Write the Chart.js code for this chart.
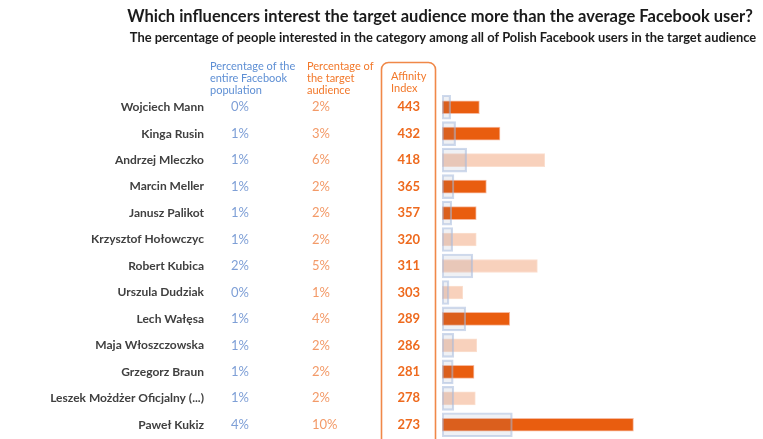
<!DOCTYPE html>
<html><head><meta charset="utf-8">
<script src="https://cdn.jsdelivr.net/npm/chart.js@4"></script>
<style>html,body{margin:0;padding:0;background:#fff;overflow:hidden}canvas{display:block}</style>
</head><body>
<canvas id="c" width="763" height="439"></canvas>
<script>
const titleText = "Which influencers interest the target audience more than the average Facebook user?";
const subtitleText = "The percentage of people interested in the category among all of Polish Facebook users in the target audience";
const populationHeader = ["Percentage of the", "entire Facebook", "population"];
const targetHeader = ["Percentage of", "the target", "audience"];
const affinityHeader = ["Affinity", "Index"];

const names = ["Wojciech Mann","Kinga Rusin","Andrzej Mleczko","Marcin Meller","Janusz Palikot","Krzysztof Hołowczyc","Robert Kubica","Urszula Dudziak","Lech Wałęsa","Maja Włoszczowska","Grzegorz Braun","Leszek Możdżer Oficjalny (...)","Paweł Kukiz"];
const populationPct = [0.47,0.74,1.34,0.65,0.53,0.58,1.67,0.38,1.29,0.64,0.61,0.64,3.82];
const targetPct = [2.03,3.15,5.58,2.41,1.86,1.86,5.18,1.13,3.68,1.89,1.74,1.81,10.4];
const affinityIndex = [443,432,418,365,357,320,311,303,289,286,281,278,273];
const highlighted = [true,true,false,true,true,false,false,false,true,false,true,false,true];

const DARK = '#E95D0F', LIGHT = '#F8D1BC';

const textPlugin = {
  id: 'textCols',
  afterDraw(chart) {
    const ctx = chart.ctx, y = chart.scales.y;
    ctx.save();
    ctx.textBaseline = 'middle';
    // titles
    ctx.fillStyle = '#1b1b1b';
    ctx.textAlign = 'center';
    ctx.font = 'bold 16.5px Lato';
    ctx.fillText(titleText, 440, 17);
    ctx.font = 'bold 12.9px Lato';
    ctx.fillText(subtitleText, 443, 38);
    // headers
    ctx.textAlign = 'left';
    ctx.font = '11px Lato';
    ctx.fillStyle = '#5E8FD4';
    populationHeader.forEach((t,i)=>ctx.fillText(t, 210, 66 + i*12.2));
    ctx.fillStyle = '#F2782A';
    targetHeader.forEach((t,i)=>ctx.fillText(t, 307, 66 + i*12.2));
    affinityHeader.forEach((t,i)=>ctx.fillText(t, 391, 76 + i*12.2));
    // affinity box
    ctx.strokeStyle = '#F08848';
    ctx.lineWidth = 1.6;
    const bx = 381.5, by = 62.5, bw = 54, r = 7;
    ctx.beginPath();
    ctx.moveTo(bx, 445);
    ctx.lineTo(bx, by + r);
    ctx.arcTo(bx, by, bx + r, by, r);
    ctx.lineTo(bx + bw - r, by);
    ctx.arcTo(bx + bw, by, bx + bw, by + r, r);
    ctx.lineTo(bx + bw, 445);
    ctx.stroke();
    // rows
    names.forEach((n,i)=>{
      const py = y.getPixelForValue(i);
      ctx.textAlign = 'right';
      ctx.font = 'bold 12px Lato';
      ctx.fillStyle = '#404040';
      ctx.fillText(n, 204, py);
      ctx.textAlign = 'left';
      ctx.font = '13px Lato';
      ctx.fillStyle = '#7E9FD6';
      ctx.fillText(Math.round(populationPct[i]) + '%', 231, py);
      ctx.fillStyle = '#F39A68';
      ctx.fillText(Math.round(targetPct[i]) + '%', 312, py);
      ctx.textAlign = 'right';
      ctx.font = 'bold 13px Lato';
      ctx.fillStyle = '#EE6A1E';
      ctx.fillText(String(affinityIndex[i]), 420, py);
    });
    ctx.restore();
  }
};

new Chart(document.getElementById('c'), {
  type: 'bar',
  data: {
    labels: names,
    datasets: [
      {
        label: 'Target audience',
        data: targetPct,
        backgroundColor: highlighted.map(h => h ? DARK : LIGHT),
        borderColor: highlighted.map(h => h ? 'rgba(240,130,80,0.55)' : 'rgba(250,215,195,0.8)'),
        borderWidth: 1,
        borderSkipped: false,
        barThickness: 13,
        grouped: false,
        order: 1
      },
      {
        label: 'Facebook population',
        data: populationPct,
        backgroundColor: 'rgba(100,120,160,0.1)',
        borderColor: 'rgba(165,185,220,0.55)',
        borderWidth: 1.5,
        borderSkipped: false,
        barThickness: 24,
        grouped: false,
        order: 0
      }
    ]
  },
  options: {
    indexAxis: 'y',
    responsive: false,
    animation: false,
    layout: { padding: { left: 442, right: 8, top: 94, bottom: 1 } },
    plugins: { legend: { display: false }, tooltip: { enabled: false }, title: { display: false } },
    scales: {
      x: { display: false, min: 0, max: 17 },
      y: { display: false, offset: true }
    }
  },
  plugins: [textPlugin]
});
</script>
</body></html>
